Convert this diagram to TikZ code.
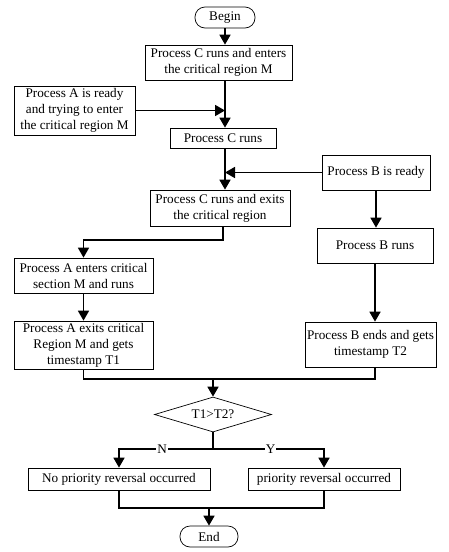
\documentclass[tikz,border=0pt]{standalone}
\usepackage{fontspec}
\setmainfont{Liberation Serif}
\usetikzlibrary{arrows.meta,shapes.geometric}

\begin{document}
\begin{tikzpicture}[x=1pt, y=-1pt,
    font=\fontsize{13.2}{16}\selectfont,
    box/.style={draw, line width=0.7pt, align=center, inner sep=2pt},
    terminal/.style={box, rounded corners=10pt, minimum width=60pt, minimum height=21pt},
    decision/.style={draw, diamond, aspect=3.3, line width=0.7pt, minimum width=117pt, minimum height=35pt, inner sep=0pt},
    line/.style={line width=1.7pt},
    arr/.style={line, -{Triangle[length=10pt,width=11pt]}}]
\useasboundingbox (0,0) rectangle (448,552);

% Boxes
\node[terminal] (begin) at (225,17.5) {Begin};
\node[box, minimum width=147pt, minimum height=35pt] (c1) at (218.5,62.5) {Process C runs and enters\\the critical region M};
\node[box, minimum width=121pt, minimum height=49pt] (a1) at (74.5,110.5) {Process A is ready\\and trying to enter\\the critical region M};
\node[box, minimum width=106pt, minimum height=20pt] (c2) at (223,138) {Process C runs};
\node[box, minimum width=108pt, minimum height=35pt] (b1) at (376,172.5) {Process B is ready};
\node[box, minimum width=140pt, minimum height=36pt] (c3) at (220,208) {Process C runs and exits\\the critical region};
\node[box, minimum width=116pt, minimum height=35pt] (b2) at (375,245.5) {Process B runs};
\node[box, minimum width=139pt, minimum height=35pt] (a2) at (83.5,275.5) {Process A enters critical\\section M and runs};
\node[box, minimum width=139pt, minimum height=48pt] (a3) at (83.5,345) {Process A exits critical\\Region M and gets\\timestamp T1};
\node[box, minimum width=125pt, minimum height=45pt] (b3) at (370.5,344.5) {Process B ends and gets\\timestamp T2};
\node[decision] (dec) at (213,414.5) {T1>T2?};
\node[box, minimum width=182pt, minimum height=22pt] (no) at (119,479) {No priority reversal occurred};
\node[box, minimum width=152pt, minimum height=22pt] (yes) at (324,479) {priority reversal occurred};
\node[terminal, minimum width=58pt] (end) at (209,536.5) {End};

% Main column
\draw[arr] (begin) -- (begin |- c1.north);
\draw[arr] (begin |- c1.south) -- (begin |- c2.north);
\draw[arr] (a1.east) -- (a1.east -| begin);
\draw[arr] (begin |- c2.south) -- (begin |- c3.north);
\draw[arr] (b1.west) -- (b1.west -| begin);

% Process A branch
\coordinate (j1) at (223,240);
\draw[arr] (c3.south -| j1) -- (j1) -| (a2.north);
\draw[arr] (a2) -- (a3);

% Process B branch
\draw[arr] (b1) -- (b1 |- b2.north);
\draw[arr] (b2.south) -- (b2.south |- b3.north);

% Merge and decision
\coordinate (j2) at (213,379);
\draw[line] (a3.south) |- (j2) -| (b2.south |- b3.south);
\draw[arr] (j2) -- (dec.north);
\coordinate (j3) at (213,449);
\draw[line] (dec.south) -- (j3);
\draw[arr] (j3) -| node[pos=0.27, fill=white, inner sep=1pt] {N} (no.north);
\draw[arr] (j3) -| node[pos=0.26, fill=white, inner sep=1pt] {Y} (yes.north);

% End
\coordinate (j4) at (209,508);
\draw[line] (no.south) |- (j4) -| (yes.south);
\draw[arr] (j4) -- (end);
\end{tikzpicture}
\end{document}
